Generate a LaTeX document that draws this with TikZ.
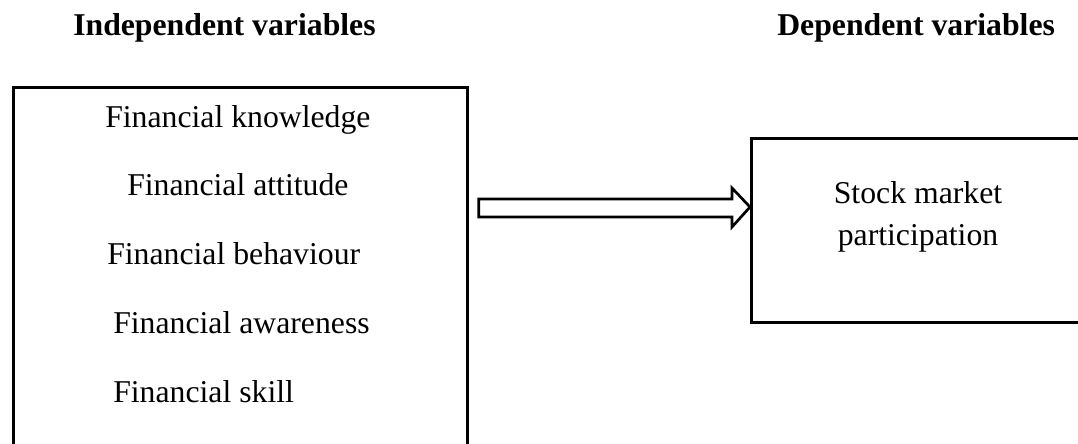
\documentclass[tikz,border=0pt]{standalone}
\usepackage{fontspec}
\setmainfont{Liberation Serif}
\begin{document}
\begin{tikzpicture}[x=0.75pt,y=-0.75pt,
  every node/.style={font=\fontsize{23.8}{28}\selectfont, inner sep=0pt},
  boxline/.style={draw=black, line width=2pt},
  heading/.style={font=\fontsize{23.8}{28}\selectfont\bfseries, anchor=base west},
  item/.style={anchor=base west},
  hollowarrow/.style={draw=black, line width=2pt, fill=white, line join=miter}]
\useasboundingbox (0,0) rectangle (1078,443);
\clip (0,0) rectangle (1078,443);
% headings
\node[heading] (hind) at (73,35) {Independent variables};
\node[heading] (hdep) at (777,35) {Dependent variables};
% boxes
\node[boxline, rectangle, minimum width=454*0.75pt, minimum height=420*0.75pt, anchor=north west] (lbox) at (12,86) {};
\node[boxline, rectangle, minimum width=360*0.75pt, minimum height=184*0.75pt, anchor=north west] (rbox) at (750,137) {};
% items
\node[item] (k) at (105,127) {Financial knowledge};
\node[item] (at) at (127,195) {Financial attitude};
\node[item] (b) at (107,264) {Financial behaviour};
\node[item] (aw) at (113,333) {Financial awareness};
\node[item] (s) at (113,402) {Financial skill};
% dependent text
\node[align=center, font=\fontsize{23.8}{31.5}\selectfont, anchor=base] (dep) at (918,245) {Stock market\\participation};
% hollow block arrow
\coordinate (astart) at ([xshift=10*0.75pt]lbox.east |- 0,208);
\coordinate (atip) at (rbox.west |- 0,207);
\draw[hollowarrow] (astart |- 0,199) -- (732,199) -- (732,188) -- (atip) -- (732,227) -- (732,217) -- (astart |- 0,217) -- cycle;
\end{tikzpicture}
\end{document}
